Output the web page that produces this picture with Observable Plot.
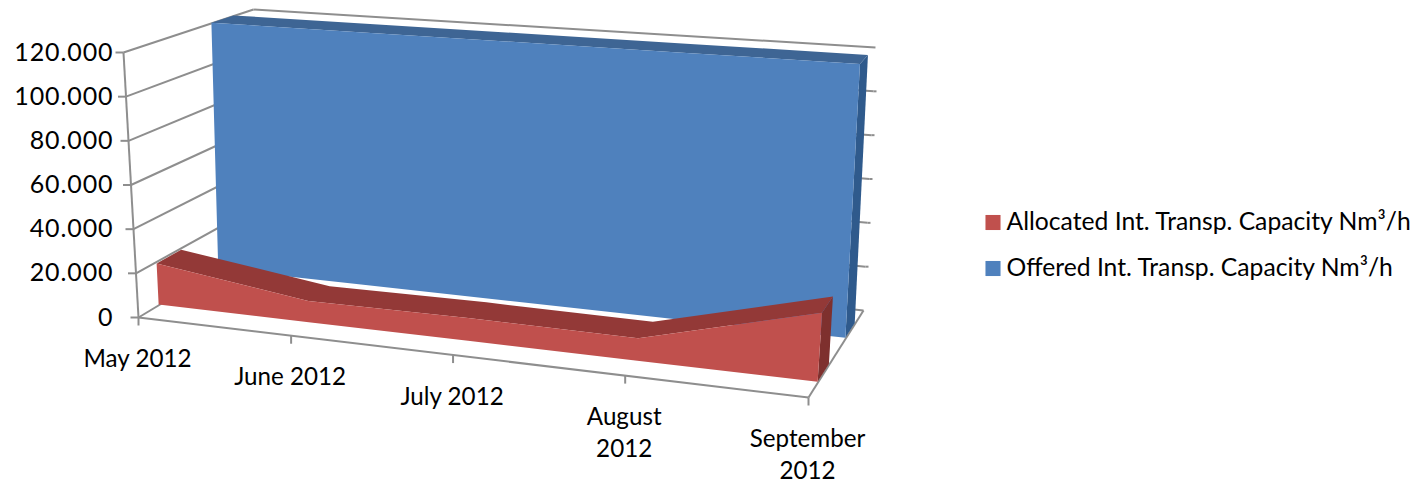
<!DOCTYPE html>
<html><head><meta charset="utf-8">
<style>html,body{margin:0;padding:0;background:#fff}svg{display:block}.ylab{letter-spacing:.9px}</style>
<script src="https://cdn.jsdelivr.net/npm/d3@7"></script>
<script src="https://cdn.jsdelivr.net/npm/@observablehq/plot@0.6"></script>
</head><body><div id="c"></div>
<script>
const months = ["May 2012","June 2012","July 2012","August\n2012","September\n2012"];
const allocated = [19000,9500,10000,9500,28500];
const offered = [120000,120000,120000,120000,120000];
const valueTicks = [0,20000,40000,60000,80000,100000,120000];
const valueLabels = ["0","20.000","40.000","60.000","80.000","100.000","120.000"];
const seriesNames = ["Allocated Int. Transp. Capacity Nm³/h","Offered Int. Transp. Capacity Nm³/h"];

const W = 1420, H = 484, vMax = 120000;
// Oblique 3D box the chart sits in (view settings)
const box = {A:[138,317],B:[808,397],C:[863,310],D:[256,246],E:[123,52],F:[828,100],G:[875,47],H:[253,9]};
const k = 1.13;
const lerp = (a,b,t)=>[a[0]+(b[0]-a[0])*t,a[1]+(b[1]-a[1])*t];
function proj(i,v,w){
  const u0=i/(months.length-1), u=u0/(u0+k*(1-u0)), t=v/vMax;
  const bot=lerp(lerp(box.A,box.B,u),lerp(box.D,box.C,u),w);
  const top=lerp(lerp(box.E,box.F,u),lerp(box.H,box.G,u),w);
  return lerp(bot,top,t);
}
const idx=d3.range(months.length), last=months.length-1;
const band=(f1,f2)=>idx.map(i=>{const a=f1(i),b=f2(i);return {x1:a[0],y1:a[1],x2:b[0],y2:b[1]}});
function faces(vals,w0,w1){
  return {
    front:band(i=>proj(i,0,w0),i=>proj(i,vals[i],w0)),
    top:band(i=>proj(i,vals[i],w0),i=>proj(i,vals[i],w1)),
    side:[[proj(last,0,w0),proj(last,0,w1)],[proj(last,vals[last],w0),proj(last,vals[last],w1)]]
      .map(([a,b])=>({x1:a[0],y1:a[1],x2:b[0],y2:b[1]}))
  };
}
const red=faces(allocated,.175,.38), blue=faces(offered,.68,.85);
const seg=(a,b)=>({x1:a[0],y1:a[1],x2:b[0],y2:b[1]});
const grid=[];
valueTicks.forEach(v=>{
  const f=proj(0,v,0), b=proj(0,v,1), r=proj(last,v,1);
  grid.push(seg(f,b), seg([f[0]-8,f[1]],f), seg(b,r));
  if(v>0&&v<vMax) grid.push(seg(r,[r[0]+3,r[1]]));
});
grid.push(seg(proj(0,0,0),proj(0,vMax,0)));
grid.push(seg(proj(0,0,0),proj(last,0,0)));
grid.push(seg(proj(last,0,0),proj(last,0,1)));
idx.forEach(i=>{const p=proj(i,0,0);grid.push(seg(p,[p[0],p[1]+8]))});

const area=(d,fill)=>Plot.area(d,{x1:"x1",y1:"y1",x2:"x2",y2:"y2",fill,curve:"linear"});
const font="Lato, Carlito, sans-serif";
const xLabels=months.map((m,i)=>{const p=proj(i,0,0);return {m,x:p[0]-1,y:p[1]+27}});
const yLabels=valueTicks.map((v,i)=>({t:valueLabels[i],y:proj(0,v,0)[1]}));
const legend=seriesNames.map((s,i)=>({s,y:222+46*i,c:["#C0504D","#4F81BD"][i]}));

const chart=Plot.plot({
  width:W,height:H,margin:0,
  x:{domain:[0,W],range:[0,W],axis:null},
  y:{domain:[0,H],range:[0,H],axis:null},
  marks:[
    Plot.link(grid,{x1:"x1",y1:"y1",x2:"x2",y2:"y2",stroke:"#8e8e8e",strokeWidth:2}),
    area(blue.side,"#2F5A8C"),
    area(blue.top,"#3E6594"),
    area(blue.front,"#4F81BD"),
    area(red.side,"#7E302E"),
    area(red.top,"#933937"),
    area(red.front,"#C0504D"),
    Plot.text(yLabels,{text:"t",x:()=>113,y:"y",textAnchor:"end",fontSize:25,fontFamily:font,fill:"#000",className:"ylab"}),
    Plot.text(xLabels,{text:"m",x:"x",y:"y",lineAnchor:"top",lineHeight:1.32,fontSize:24.2,fontFamily:font,fill:"#000"}),
    Plot.dot(legend,{x:()=>992.5,y:"y",symbol:"square",r:8.5,fill:"c"}),
    Plot.text(legend,{text:"s",x:()=>1006,y:"y",textAnchor:"start",fontSize:24.7,fontFamily:font,fill:"#000"})
  ]
});
document.getElementById("c").append(chart);
</script></body></html>
